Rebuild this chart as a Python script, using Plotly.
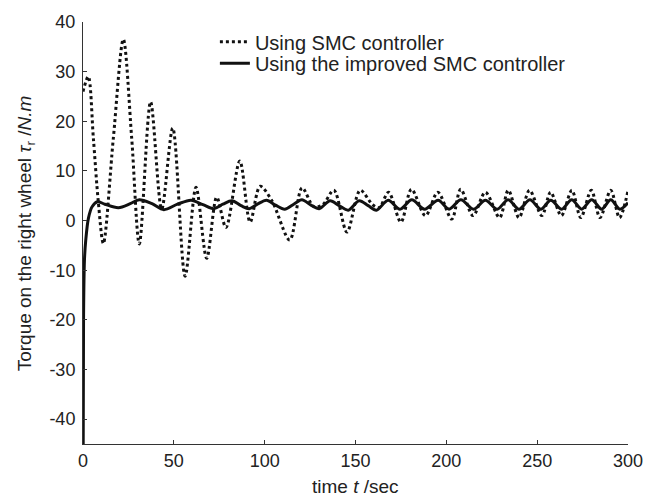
"""Torque on the right wheel: SMC vs improved SMC controller."""

import plotly.graph_objects as go

# SMC controller (dotted)
smc_t = [0, 2.9, 5.7, 8.4, 11.2, 16.7, 22.2, 26.8, 31.0, 37.2, 43.3, 49.4,
         56.2, 62.2, 68.1, 73.6, 78.7, 86.3, 92.0, 97.5, 104.0, 113.8, 120.6,
         127.0, 132.0, 138.1, 145.3, 152.6, 159.4, 163.0, 168.2, 175.0, 180.8,
         188.5, 195.3, 203.0, 207.9, 214.7, 221.5, 229.3, 234.1, 240.0, 245.8,
         252.6, 257.4, 263.3, 269.1, 274.0, 279.8, 284.6, 290.5, 295.3, 300.0]
smc_torque = [26.0, 29.0, 16.6, 3.9, -4.6, 16.6, 36.5, 16.6, -4.7, 23.9, 2.3,
              18.6, -11.2, 6.7, -7.6, 4.7, -1.4, 12.0, -0.3, 6.9, 4.0, -3.9,
              6.6, 2.8, 3.2, 6.1, -2.3, 6.1, 3.2, 2.6, 5.7, -0.3, 6.3, 1.0,
              5.7, 0.3, 6.3, 1.0, 5.7, 0.6, 6.1, 0.6, 6.1, 1.0, 5.7, 1.0, 6.1,
              0.6, 6.1, 0.6, 6.1, 0.6, 6.0]

# improved SMC controller (solid)
imp_t = [0, 0.3, 0.8, 1.5, 3.0, 5.0, 8.0, 12.0, 19.5, 26.0, 31.0, 38.0, 44.5,
         52.0, 59.5, 66.0, 72.0, 77.0, 82.0, 87.0, 91.5, 96.0, 101.0, 106.0,
         111.0, 116.0, 120.5, 125.5, 130.0, 136.0, 141.0, 146.0, 152.0, 157.0,
         161.5, 168.0, 174.5, 181.0, 188.0, 195.5, 201.5, 208.0, 215.0, 221.5,
         228.0, 234.0, 240.0, 246.0, 252.0, 257.5, 263.5, 269.0, 274.5, 280.0,
         285.5, 290.5, 295.5, 300.0]
imp_torque = [-60.0, -20.0, -8.0, -4.0, 0.5, 2.8, 3.8, 3.3, 2.6, 3.4, 4.2, 3.4,
              2.2, 3.3, 4.1, 3.2, 2.4, 3.3, 4.0, 3.0, 2.4, 3.3, 4.1, 3.1, 2.3,
              3.3, 4.2, 3.1, 2.4, 4.0, 3.0, 2.1, 4.0, 3.0, 2.1, 4.1, 2.3, 4.2,
              2.3, 4.1, 2.3, 4.2, 2.3, 4.1, 2.3, 4.2, 2.3, 4.2, 2.3, 4.1, 2.3,
              4.2, 2.3, 4.2, 2.3, 4.2, 2.3, 3.6]

x_ticks = [0, 50, 100, 150, 200, 250, 300]
y_ticks = [-40, -30, -20, -10, 0, 10, 20, 30, 40]
y_tick_text = [str(v) for v in y_ticks]  # plain hyphen, as in the original

FONT = "Liberation Sans, Arial, sans-serif"
TEXT_COLOR = "#222222"

fig = go.Figure()
fig.add_trace(
    go.Scatter(
        x=smc_t,
        y=smc_torque,
        mode="lines",
        name="Using SMC controller",
        legend="legend",
        line={"color": "#111111", "width": 3, "dash": "dot",
              "shape": "spline", "smoothing": 0.9},
    )
)
fig.add_trace(
    go.Scatter(
        x=imp_t,
        y=imp_torque,
        mode="lines",
        name="Using the improved SMC controller",
        legend="legend2",
        line={"color": "#111111", "width": 3, "shape": "spline", "smoothing": 0.9},
    )
)

axis_common = dict(
    showgrid=False,
    zeroline=False,
    showline=True,
    linecolor="#333333",
    linewidth=1,
    ticks="inside",
    ticklen=4,
    tickcolor="#333333",
    mirror=False,
    tickfont={"family": FONT, "size": 18, "color": TEXT_COLOR},
)

fig.update_xaxes(range=[0, 300], tickvals=x_ticks, **axis_common)
fig.update_yaxes(range=[-45, 40], tickvals=y_ticks, ticktext=y_tick_text,
                 ticklabelstandoff=3, **axis_common)

fig.add_annotation(
    x=0.5, y=-0.1, xref="paper", yref="paper",
    xanchor="center", yanchor="middle", showarrow=False,
    text="time <i>t</i> /sec",
    font={"family": FONT, "size": 19, "color": TEXT_COLOR},
)
fig.add_annotation(
    x=-0.104, y=0.5, xref="paper", yref="paper",
    xanchor="center", yanchor="middle", showarrow=False, textangle=-90,
    text="Torque on the right wheel <i>τ</i><sub>r</sub> /<i>N.m</i>",
    font={"family": FONT, "size": 19, "color": TEXT_COLOR},
)

legend_common = {
    "xanchor": "left", "yanchor": "middle",
    "bgcolor": "rgba(0,0,0,0)",
    "font": {"family": FONT, "size": 20, "color": TEXT_COLOR},
}

fig.update_layout(
    width=661,
    height=499,
    margin={"l": 83, "r": 33, "t": 15, "b": 55},
    plot_bgcolor="white",
    paper_bgcolor="white",
    showlegend=True,
    legend={"x": 0.242, "y": 0.953, **legend_common},
    legend2={"x": 0.242, "y": 0.902, **legend_common},
)

# drop the browser's default body margin so the figure sits at the page corner
fig.write_html(
    "out.html",
    config={"displayModeBar": False},
    post_script="document.body.style.margin='0px';",
)
